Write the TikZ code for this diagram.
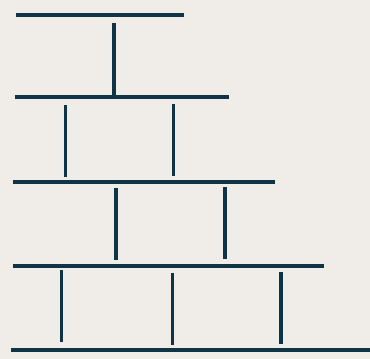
\documentclass[tikz,border=0pt]{standalone}
\definecolor{bg}{HTML}{F0EDE8}
\definecolor{ink}{HTML}{0E3446}
\begin{document}
\begin{tikzpicture}[x=1pt,y=-1pt,
  shelf/.style={draw=ink,line width=3.8pt},
  post/.style={draw=ink,line width=3.5pt}]
\fill[bg] (0,0) rectangle (370,359);
\useasboundingbox (0,0) rectangle (370,359);
% shelves
\draw[shelf] (16,15.3) -- (184,15.3);
\draw[shelf] (14.7,97) -- (229,97);
\draw[shelf] (13,182.2) -- (275,182.2);
\draw[shelf] (13,265.7) -- (324,265.7);
\draw[shelf] (11,350.3) -- (370,350.3);
% posts
\draw[post] (114,23) -- (114,95);
\draw[post] (65.3,105) -- (65.3,177);
\draw[post] (173.7,104) -- (173.7,176);
\draw[post] (116,188) -- (116,260);
\draw[post] (225,187) -- (225,259);
\draw[post] (61.3,270) -- (61.3,342);
\draw[post] (172.5,273) -- (172.5,345);
\draw[post] (281,272) -- (281,344);
\end{tikzpicture}
\end{document}
